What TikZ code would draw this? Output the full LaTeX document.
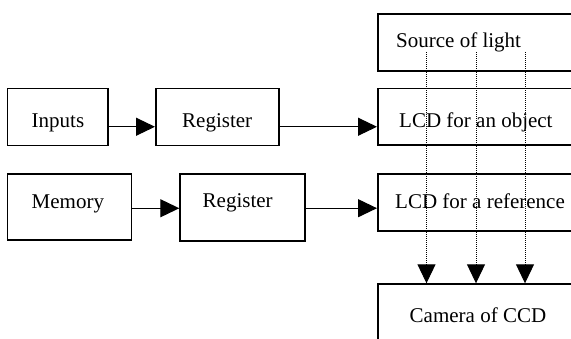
\documentclass[tikz,border=0pt]{standalone}
\usepackage{fontspec}
\setmainfont{Liberation Serif}
\usetikzlibrary{arrows.meta}
\begin{document}
\begin{tikzpicture}[x=1pt,y=-1pt,
  box/.style={draw=black,line width=1.5pt,rectangle,inner sep=0pt,anchor=north west},
  lbl/.style={inner sep=0pt,anchor=base west,font=\fontsize{21}{25}\selectfont},
  arr/.style={line width=1.1pt,-{Triangle[length=19pt,width=18pt]}},
  dotarr/.style={line width=1pt,dash pattern=on 1pt off 1pt,-{Triangle[length=19pt,width=18pt]}}]
\useasboundingbox (0,0) rectangle (571,338);
\clip (0,0) rectangle (571,338);
% boxes
\node[box,minimum width=100.5pt,minimum height=57pt] (inp) at (6.5,87.5) {};
\node[box,minimum width=123pt,minimum height=57pt] (reg1) at (155,87.5) {};
\node[box,minimum width=220pt,minimum height=56.7pt] (src) at (377,13.3) {};
\node[box,minimum width=220pt,minimum height=56.7pt] (lcdo) at (377,87.6) {};
\node[box,minimum width=124pt,minimum height=66pt] (mem) at (6.7,173.3) {};
\node[box,minimum width=124.7pt,minimum height=66.7pt] (reg2) at (179.3,173.3) {};
\node[box,minimum width=220pt,minimum height=57pt] (lcdr) at (377,173.3) {};
\node[box,minimum width=220pt,minimum height=80pt] (cam) at (377,283.3) {};
% texts
\node[lbl] (inpT) at (31.5,127) {Inputs};
\node[lbl] (reg1T) at (182,127) {Register};
\node[lbl] (srcT) at (396,47) {Source of light};
\node[lbl] (lcdoT) at (399,127) {LCD for an object};
\node[lbl] (memT) at (31.5,208) {Memory};
\node[lbl] (reg2T) at (202.5,207.5) {Register};
\node[lbl] (lcdrT) at (395,208) {LCD for a reference};
\node[lbl] (camT) at (409.5,322) {Camera of CCD};
% arrows
\draw[arr] ([yshift=-10pt]inp.east) -- ([yshift=-10pt]reg1.west);
\draw[arr] ([yshift=-10pt]reg1.east) -- ([yshift=-10pt]reg1.east -| lcdo.west);
\draw[arr] ([yshift=-1.2pt]mem.east) -- ([yshift=-1.2pt]mem.east -| reg2.west);
\draw[arr] ([yshift=-0.8pt]reg2.east) -- ([yshift=-0.8pt]reg2.east -| lcdr.west);
% light rays
\coordinate (s1) at (426.5,52);
\coordinate (s2) at (476,52);
\coordinate (s3) at (525,52);
\draw[dotarr] (s1) -- (s1 |- cam.north);
\draw[dotarr] (s2) -- (s2 |- cam.north);
\draw[dotarr] (s3) -- (s3 |- cam.north);
\end{tikzpicture}
\end{document}
